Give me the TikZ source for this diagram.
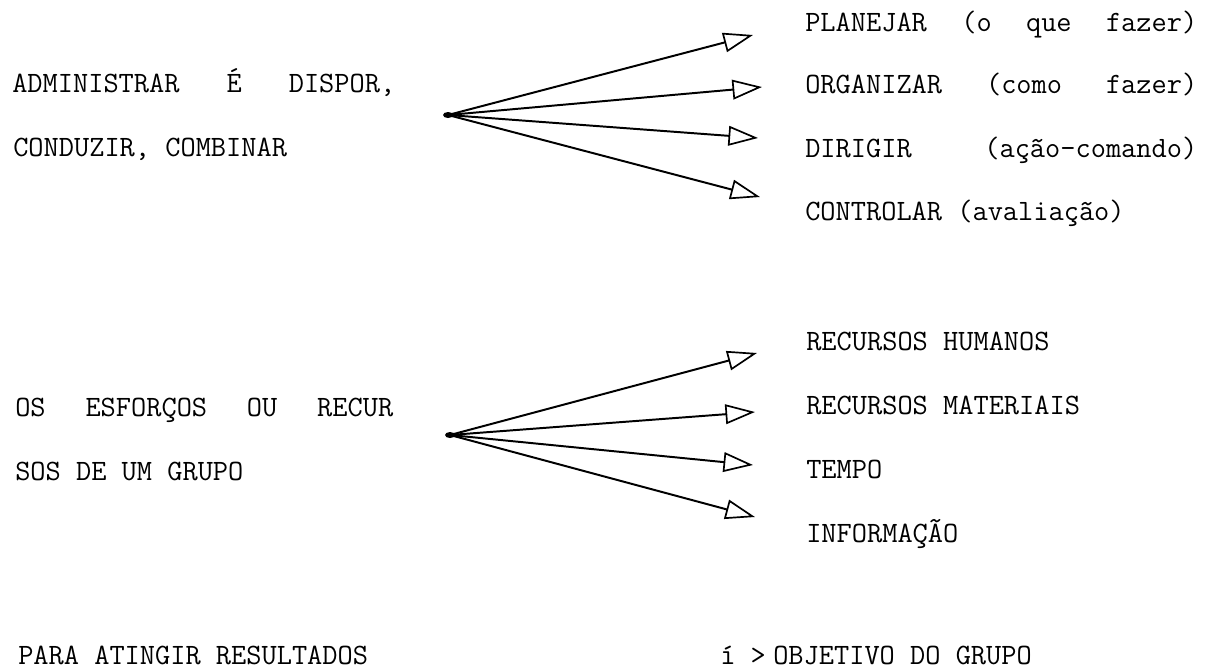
\documentclass[tikz,border=0pt]{standalone}
\usepackage{fontspec}
\usetikzlibrary{arrows.meta}

% one drawing unit
\newlength\pxu
\setlength\pxu{0.025cm}

\begin{document}
\begin{tikzpicture}[x=0.025cm, y=-0.025cm,
    every node/.style={font=\ttfamily\fontsize{21}{25}\selectfont, inner sep=0pt, anchor=base west},
    fan/.style={line width=1.4pt, -{Triangle[open, length=21pt, width=14pt, line width=1.2pt]}}]
  \useasboundingbox (0,0) rectangle (1206,671);

  % first block: what administering means
  \node (adm) at (12,92) {\makebox[383\pxu][l]{ADMINISTRAR\hfill É\hfill DISPOR,}};
  \node (cond) at (13,156) {CONDUZIR, COMBINAR};
  \node (plan) at (805,31) {\makebox[392\pxu][l]{PLANEJAR\hfill (o\hfill que\hfill fazer)}};
  \node (org) at (805,93) {\makebox[392\pxu][l]{ORGANIZAR\hfill (como\hfill fazer)}};
  \node (dir) at (805,157) {\makebox[392\pxu][l]{DIRIGIR\hfill (ação-comando)}};
  \node (ctrl) at (805,220) {CONTROLAR (avaliação)};

  \coordinate (hubA) at (448,115);
  \coordinate (toPlan) at (753,35);
  \coordinate (toOrg) at (762,87);
  \coordinate (toDir) at (758,138);
  \coordinate (toCtrl) at (760,197);
  \fill (hubA) ellipse (5 and 3);
  \draw[fan] (hubA) -- (toPlan);
  \draw[fan] (hubA) -- (toOrg);
  \draw[fan] (hubA) -- (toDir);
  \draw[fan] (hubA) -- (toCtrl);

  % second block: the resources
  \node (esf) at (15,416) {\makebox[378\pxu][l]{OS\hfill ESFORÇOS\hfill OU\hfill RECUR}};
  \node (grp) at (15,480) {SOS DE UM GRUPO};
  \node (hum) at (806,350) {RECURSOS HUMANOS};
  \node (mat) at (806,414) {RECURSOS MATERIAIS};
  \node (tempo) at (806,478) {TEMPO};
  \node (info) at (806,542) {INFORMAÇÃO};

  \coordinate (hubB) at (450,435);
  \coordinate (toHum) at (757,353);
  \coordinate (toMat) at (755,412);
  \coordinate (toTempo) at (753,465);
  \coordinate (toInfo) at (755,517);
  \fill (hubB) ellipse (5 and 3);
  \draw[fan] (hubB) -- (toHum);
  \draw[fan] (hubB) -- (toMat);
  \draw[fan] (hubB) -- (toTempo);
  \draw[fan] (hubB) -- (toInfo);

  % bottom line
  \node (res) at (18,664) {PARA ATINGIR RESULTADOS};
  \node (seta) at (720,664) {í >};
  \node (obj) at (773,664) {OBJETIVO DO GRUPO};
\end{tikzpicture}
\end{document}
